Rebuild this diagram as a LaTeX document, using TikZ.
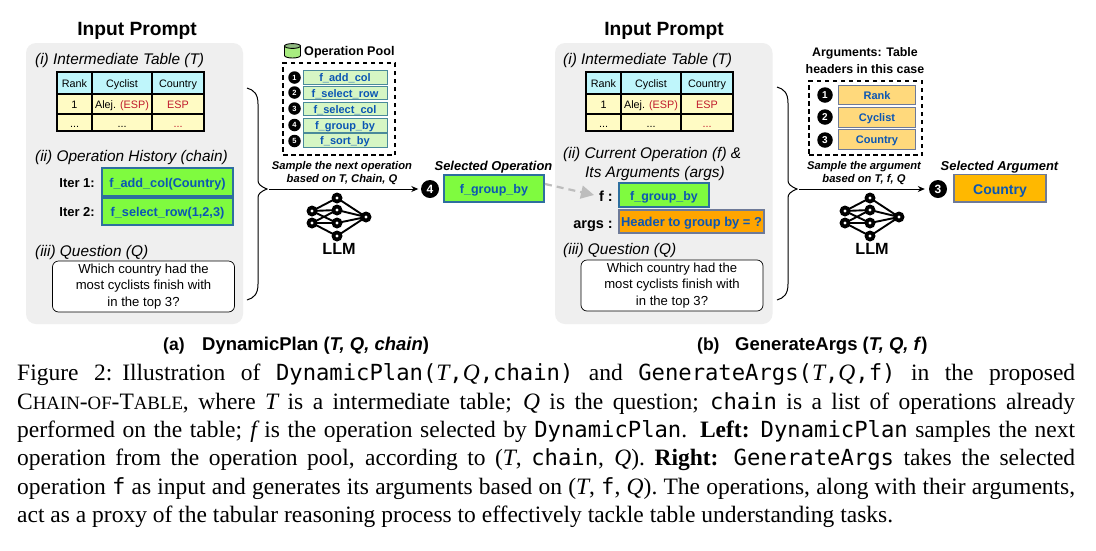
\documentclass[tikz,border=0pt]{standalone}
\usepackage{fontspec}
\setmainfont{Liberation Sans}
\newfontfamily\capfont{Liberation Serif}
\setmonofont{DejaVu Sans Mono}
\usetikzlibrary{arrows.meta}
\definecolor{panelgrey}{HTML}{EFEFEF}
\definecolor{hdrcyan}{HTML}{BFF6FB}
\definecolor{bodyyel}{HTML}{FFFBC4}
\definecolor{opgreen}{HTML}{7FFB3F}
\definecolor{opedge}{HTML}{2E6F9E}
\definecolor{opblue}{HTML}{0B56B4}
\definecolor{esp}{HTML}{C01A2C}
\definecolor{poolgreen}{HTML}{D6F6C4}
\definecolor{pooledge}{HTML}{4A8A9A}
\definecolor{argyel}{HTML}{FFD97C}
\definecolor{argedge}{HTML}{6E7A98}
\definecolor{argorange}{HTML}{FFA500}
\definecolor{selorange}{HTML}{FFB800}
\definecolor{dashgrey}{HTML}{BDBDBD}
\definecolor{cylbody}{HTML}{A8EC80}
\definecolor{cyltop}{HTML}{8FB880}
\newcommand{\fs}[1]{\fontsize{#1}{#1}\selectfont}
\newcommand{\boxn}[7]{%
  \pgfmathsetmacro{\bw}{#4-#2}\pgfmathsetmacro{\bh}{#5-#3}%
  \pgfmathsetmacro{\bx}{(#2+#4)/2}\pgfmathsetmacro{\by}{(#3+#5)/2}%
  \node[minimum width=\bw pt,minimum height=\bh pt,inner sep=0pt,outer sep=0pt,#6] (#1) at (\bx,\by) {\rule[-.06em]{0pt}{.96em}\smash{#7}};}
\newcommand{\qbox}[3]{% name, x-left, y-top
  \pgfmathsetmacro{\bx}{#2+91}\pgfmathsetmacro{\by}{#3+25.5}%
  \node[draw=black,line width=.7pt,fill=white,rounded corners=6pt,minimum width=182pt,minimum height=51pt,
        inner sep=0pt,align=center,font=\fontsize{13.1}{16.4}\selectfont] (#1) at (\bx,\by)
        {Which country had the\\most cyclists finish with\\in the top 3?};}
\newcommand{\tbl}[6]{% prefix, x0,x1,x2,x3, y-top
  \pgfmathsetmacro{\ya}{#6+22}\pgfmathsetmacro{\yb}{#6+42}\pgfmathsetmacro{\yc}{#6+59}%
  \boxn{#1h1}{#2}{#6}{#3}{\ya}{cellb,fill=hdrcyan}{Rank}
  \boxn{#1h2}{#3}{#6}{#4}{\ya}{cellb,fill=hdrcyan}{Cyclist}
  \boxn{#1h3}{#4}{#6}{#5}{\ya}{cellb,fill=hdrcyan}{Country}
  \boxn{#1a1}{#2}{\ya}{#3}{\yb}{cellb,fill=bodyyel}{1}
  \boxn{#1a2}{#3}{\ya}{#4}{\yb}{cellb,fill=bodyyel}{Alej. \textcolor{esp}{(ESP)}}
  \boxn{#1a3}{#4}{\ya}{#5}{\yb}{cellb,fill=bodyyel}{\textcolor{esp}{ESP}}
  \boxn{#1b1}{#2}{\yb}{#3}{\yc}{cellb,fill=bodyyel}{...}
  \boxn{#1b2}{#3}{\yb}{#4}{\yc}{cellb,fill=bodyyel}{...}
  \boxn{#1b3}{#4}{\yb}{#5}{\yc}{cellb,fill=bodyyel}{\textcolor{esp}{...}}}
\newcommand{\llm}[3]{% prefix, dx, dy  (origin = left upper input)
  \begin{scope}[shift={(#2,#3)}]
    \node[llmdot] (#1a) at (0,0) {};
    \node[llmdot] (#1b) at (0,12) {};
    \node[llmdot] (#1c) at (25,-13) {};
    \node[llmdot] (#1d) at (25,-1) {};
    \node[llmdot] (#1e) at (25,12) {};
    \node[llmdot] (#1f) at (25,25) {};
    \node[llmdot] (#1g) at (54,6) {};
    \draw[llmedge] (#1a.center)--(#1c.center) (#1a.center)--(#1d.center) (#1a.center)--(#1e.center)
      (#1b.center)--(#1d.center) (#1b.center)--(#1e.center) (#1b.center)--(#1f.center)
      (#1c.center)--(#1g.center) (#1d.center)--(#1g.center) (#1e.center)--(#1g.center) (#1f.center)--(#1g.center);
    \foreach \n in {a,b,c,d,e,f,g}{\node[llmhole] (#1hole\n) at (#1\n.center) {};}
  \end{scope}}
\newcommand{\tm}[1]{{\itshape #1}}
\tikzset{
  every node/.style={inner sep=0pt},
  panel/.style={fill=panelgrey,draw=none,rounded corners=10pt},
  cellb/.style={draw=black,line width=1.2pt,font=\fs{10.8}},
  opbox/.style={draw=opedge,line width=1.6pt,fill=opgreen,text=opblue,font=\bfseries\fs{12.7}},
  poolbox/.style={draw=pooledge,line width=.8pt,fill=poolgreen,text=opblue,font=\bfseries\fs{11}},
  argbox/.style={draw=argedge,line width=.9pt,fill=argyel,text=opblue,font=\bfseries\fs{11}},
  dashbox/.style={draw=black,line width=1.1pt,dash pattern=on 4.5pt off 3.5pt},
  numdot/.style={circle,fill=black,text=white,inner sep=0pt,font=\bfseries},
  title/.style={anchor=base,font=\bfseries\fs{19.2}},
  sect/.style={anchor=base west,font=\itshape\fs{15.4}},
  iter/.style={anchor=base east,font=\bfseries\fs{13}},
  sample/.style={anchor=base,font=\bfseries\itshape\fs{11.2}},
  seltitle/.style={anchor=base,font=\bfseries\itshape\fs{12.9}},
  llmlabel/.style={anchor=base,font=\bfseries\fs{16.2}},
  subcap/.style={anchor=base west,font=\bfseries\fs{18.5}},
  llmdot/.style={circle,fill=black,minimum size=11pt,inner sep=0pt},
  llmhole/.style={circle,fill=white,minimum size=3.4pt,inner sep=0pt},
  llmedge/.style={draw=black,line width=1.9pt},
  bracel/.style={draw=black,line width=1pt},
  flow/.style={draw=black,line width=1pt,-{Stealth[length=7pt,width=6pt]}},
  gflow/.style={draw=dashgrey,line width=2.2pt,dash pattern=on 7pt off 5pt,-{Triangle[length=13pt,width=13pt]}},
  capline/.style={anchor=base west,inner sep=0pt,font=\capfont\fs{23.5}},
}
\newcommand{\mn}[1]{{\fs{22.2}\ttfamily #1}}
\begin{document}
\begin{tikzpicture}[x=1pt,y=-1pt]
\useasboundingbox (0,0) rectangle (1096,550);
\fill[white] (0,0) rectangle (1096,550);

% ---------- left panel
\node[title] (tl) at (137,35) {Input Prompt};
\boxn{pl}{26}{43}{243}{324}{panel}{}
\node[sect] (li) at (35,64) {(i) Intermediate Table (T)};
\tbl{lt}{57}{92}{152}{204}{72}
\node[sect] (lii) at (35,161) {(ii) Operation History (chain)};
\node[iter] (it1) at (95,187) {Iter 1:};
\node[iter] (it2) at (95,216) {Iter 2:};
\boxn{op1}{102}{168}{233}{196}{opbox}{f\_add\_col(Country)}
\boxn{op2}{102}{198}{233}{225}{opbox}{f\_select\_row(1,2,3)}
\node[sect] (liii) at (35,256) {(iii) Question (Q)};
\qbox{ql}{52.5}{261}

% brace 1
\coordinate (b1top) at (247,88);
\coordinate (b1tip) at (267,189);
\coordinate (b1bot) at (247,300);
\draw[bracel] (b1top) .. controls (254,90) and (258,94) .. (258,104) -- (258,180)
  .. controls (258,184) and (260,186) .. (b1tip) .. controls (260,192) and (258,194) .. (258,198)
  -- (258,284) .. controls (258,294) and (254,298) .. (b1bot);

% operation pool
\fill[cylbody,draw=black,line width=.9pt] (284.5,46) -- (284.5,55.5) arc[start angle=180,end angle=360,x radius=8,y radius=-2.5] -- (300.5,46) -- cycle;
\draw[fill=cyltop,line width=.9pt] (292.5,46) ellipse[x radius=8,y radius=2.4];
\node[anchor=base west,font=\bfseries\fs{12.6}] (pooltitle) at (304,55.5) {Operation Pool};
\boxn{pool}{283}{63}{395}{155}{dashbox}{}
\boxn{p1}{303}{70}{387}{84}{poolbox}{f\_add\_col}
\boxn{p2}{303}{86}{387}{99}{poolbox}{f\_select\_row}
\boxn{p3}{303}{102}{387}{115}{poolbox}{f\_select\_col}
\boxn{p4}{303}{118}{387}{132}{poolbox}{f\_group\_by}
\boxn{p5}{303}{133}{387}{147}{poolbox}{f\_sort\_by}
\foreach \n/\y in {1/77.5,2/92.5,3/108.5,4/125,5/141}{
  \node[numdot,minimum size=12.5pt,font=\bfseries\fs{7.5}] (pn\n) at (294.5,\y) {\n};}
\node[sample] (s1a) at (342,169) {Sample the next operation};
\node[sample] (s1b) at (342,182) {based on T, Chain, Q};
\node[numdot,minimum size=18pt,font=\bfseries\fs{12}] (n4) at (430,189) {4};
\draw[flow,shorten >=2.5pt] (b1tip) ++(2,0) -- (n4.west);
\node[seltitle] (selop) at (493.5,170) {Selected Operation};
\boxn{sel}{444}{175}{544}{202}{opbox,font=\bfseries\fs{12.5}}{f\_group\_by}
\llm{lm}{312}{211}
\node[llmlabel] (llm1) at (339,254) {LLM};

% ---------- right panel
\node[title] (tr) at (664,35) {Input Prompt};
\boxn{pr}{555}{43}{772.5}{324}{panel}{}
\node[sect] (ri) at (563,64) {(i) Intermediate Table (T)};
\tbl{rt}{586}{621}{681}{733}{72}
\node[sect] (rii) at (563,158) {(ii) Current Operation (f) \&};
\node[sect] (riib) at (585,177) {Its Arguments (args)};
\node[anchor=base east,font=\bfseries\fs{14.5}] (flab) at (613,201) {f :};
\node[anchor=base east,font=\bfseries\fs{14.5}] (arglab) at (613,228) {args :};
\boxn{fbox}{619}{183}{709}{207}{opbox,font=\bfseries\fs{12.4}}{f\_group\_by}
\boxn{abox}{619}{210}{764}{233}{draw=argedge,line width=1.3pt,fill=argorange,text=opblue,font=\bfseries\fs{12.9}}{Header to group by = ?}
\node[sect] (riii) at (563,254) {(iii) Question (Q)};
\qbox{qr}{581}{260}
\coordinate (gs) at (545,184);
\coordinate (ge) at (594,195);
\draw[gflow] (gs) -- (ge);

% brace 2
\coordinate (b2top) at (777,87);
\coordinate (b2tip) at (797,189);
\coordinate (b2bot) at (777,300);
\draw[bracel] (b2top) .. controls (784,89) and (788,93) .. (788,103) -- (788,180)
  .. controls (788,184) and (790,186) .. (b2tip) .. controls (790,192) and (788,194) .. (788,198)
  -- (788,284) .. controls (788,294) and (784,298) .. (b2bot);

% arguments
\node[anchor=base,font=\bfseries\fs{12.4}] (at1) at (865,56) {Arguments: Table};
\node[anchor=base,font=\bfseries\fs{12.4}] (at2) at (865,73) {headers in this case};
\boxn{argp}{809}{81}{922}{155}{dashbox}{}
\boxn{a1}{838.5}{85.5}{915.5}{104}{argbox}{Rank}
\boxn{a2}{838.5}{107.5}{915.5}{127}{argbox}{Cyclist}
\boxn{a3}{838.5}{129.5}{915.5}{149}{argbox}{Country}
\foreach \n/\y in {1/95,2/117,3/140}{
  \node[numdot,minimum size=15.5pt,font=\bfseries\fs{10}] (an\n) at (825,\y) {\n};}
\node[sample] (s2a) at (864,169) {Sample the argument};
\node[sample] (s2b) at (864,182) {based on T, f, Q};
\node[numdot,minimum size=18pt,font=\bfseries\fs{12}] (n3) at (938,189) {3};
\draw[flow,shorten >=4pt] (b2tip) ++(2,0) -- (n3.west);
\node[seltitle] (selarg) at (999.5,170) {Selected Argument};
\boxn{selb}{954}{174.5}{1046}{202}{draw=argedge,line width=1.5pt,fill=selorange,text=opblue,font=\bfseries\fs{14}}{Country}
\llm{rm}{845}{211}
\node[llmlabel] (llm2) at (872,254) {LLM};

% ---------- sub-captions
\node[subcap,font=\fs{17.5}] (ca) at (163,350) {\textbf{(a)}};
\node[subcap] (cat) at (202,350) {DynamicPlan (\textit{T, Q, chain})};
\node[subcap,font=\fs{17.5}] (cb) at (697,350) {\textbf{(b)}};
\node[subcap] (cbt) at (735,350) {GenerateArgs (\textit{T, Q, f})};

% ---------- figure caption
\node[capline] (l1) at (17,380.5) {\makebox[1058pt][s]{Figure 2:\hspace{10pt}Illustration of \mn{DynamicPlan(}\tm{T}\mn{,}\tm{Q}\mn{,chain)} and \mn{GenerateArgs(}\tm{T}\mn{,}\tm{Q}\mn{,f)} in the proposed}};
\node[capline] (l2) at (17,409) {\makebox[1058pt][s]{C{\fs{18.8}HAIN}-{\fs{18.8}OF}-T{\fs{18.8}ABLE}, where \tm{T} is a intermediate table; \tm{Q} is the question; \mn{chain} is a list of operations already}};
\node[capline] (l3) at (17,437.5) {\makebox[1058pt][s]{performed on the table; \tm{f} is the operation selected by \mn{DynamicPlan}. \textbf{Left:} \mn{DynamicPlan} samples the next}};
\node[capline] (l4) at (17,465.5) {\makebox[1058pt][s]{operation from the operation pool, according to (\tm{T}, \mn{chain}, \tm{Q}). \textbf{Right:} \mn{GenerateArgs} takes the selected}};
\node[capline] (l5) at (17,494) {\makebox[1058pt][s]{operation \mn{f} as input and generates its arguments based on (\tm{T}, \mn{f}, \tm{Q}). The operations, along with their arguments,}};
\node[capline] (l6) at (17,522) {act as a proxy of the tabular reasoning process to effectively tackle table understanding tasks.};
\end{tikzpicture}
\end{document}
